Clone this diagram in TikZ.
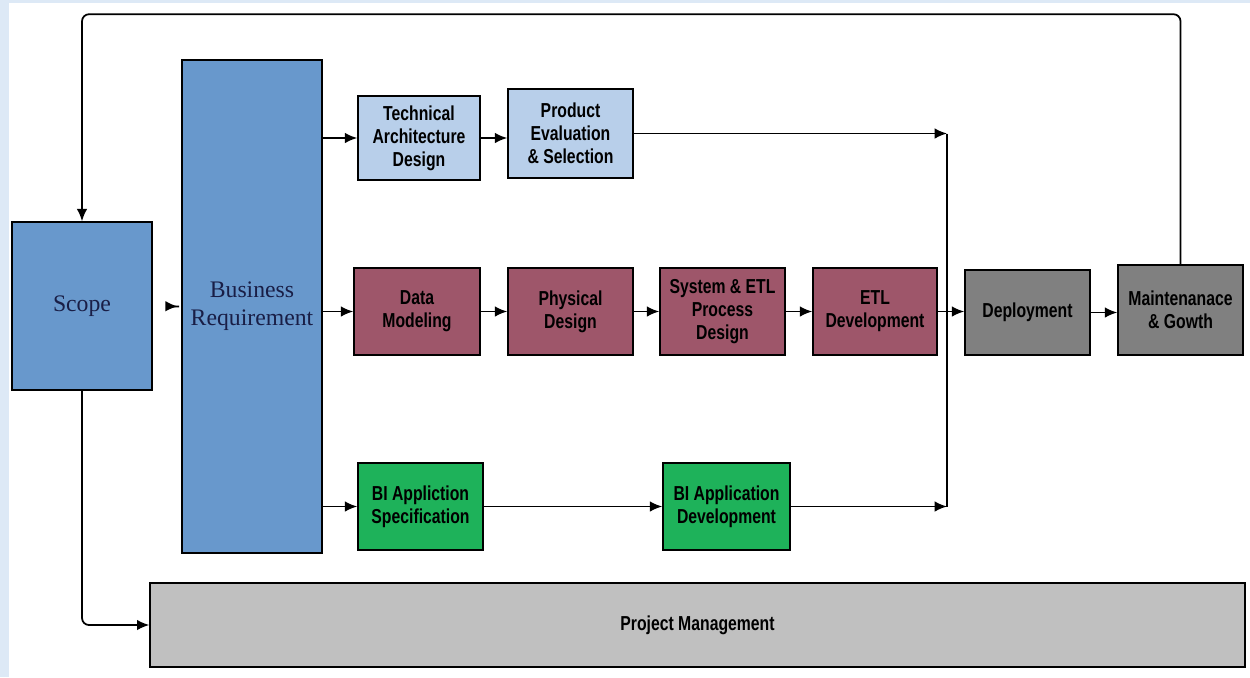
\documentclass[tikz,border=0pt]{standalone}
\usepackage{fontspec}
\setmainfont{Liberation Serif}
\newfontfamily\narrowfont[FakeStretch=0.78]{Liberation Sans}
\usetikzlibrary{arrows.meta}
\definecolor{pageblue}{RGB}{221,233,246}
\definecolor{scopeblue}{RGB}{104,152,204}
\definecolor{archblue}{RGB}{184,207,234}
\definecolor{datamauve}{RGB}{158,86,106}
\definecolor{deploygray}{RGB}{128,128,128}
\definecolor{appgreen}{RGB}{30,178,90}
\definecolor{pmgray}{RGB}{192,192,192}
\definecolor{navytext}{RGB}{25,30,70}

\begin{document}
\begin{tikzpicture}[x=0.02cm,y=-0.02cm,
  box/.style={draw=black, line width=0.9pt, align=center, inner sep=1pt,
    minimum height=1.74cm, minimum width=2.5cm,
    font=\narrowfont\bfseries\fontsize{11.5}{13}\selectfont},
  bigbox/.style={box, text=navytext, font=\fontsize{13.5}{16}\selectfont},
  arr/.style={line width=1pt, -{Latex[length=7pt,width=6pt]}},
  link/.style={line width=1pt}]
\useasboundingbox (0,0) rectangle (1250,677);
\fill[pageblue] (0,0) rectangle (1250,677);
\fill[white] (9,3) rectangle (1250,677);

\node[bigbox, fill=scopeblue, minimum width=2.8cm, minimum height=3.36cm] (scope) at (82,306) {Scope};
\node[bigbox, fill=scopeblue, minimum width=2.8cm, minimum height=9.86cm] (busreq) at (252,306.5) {Business\\Requirement};

\node[box, fill=archblue, minimum width=2.44cm, minimum height=1.68cm] (techarch) at (419,138) {Technical\\Architecture\\Design};
\node[box, fill=archblue, minimum height=1.78cm] (prodeval) at (570.5,133.5) {Product\\Evaluation\\\& Selection};

\node[box, fill=datamauve, minimum width=2.52cm] (datamod) at (417,311.5) {Data\\Modeling};
\node[box, fill=datamauve] (physdes) at (570.5,311.5) {Physical\\Design};
\node[box, fill=datamauve] (sysetl) at (722.5,311.5) {System \& ETL\\Process\\Design};
\node[box, fill=datamauve, minimum width=2.48cm] (etldev) at (875,311.5) {ETL\\Development};
\node[box, fill=deploygray, minimum height=1.7cm] (deploy) at (1027.5,312.5) {Deployment};
\node[box, fill=deploygray, minimum height=1.8cm] (maint) at (1180.5,310) {Maintenanace\\\& Gowth};

\node[box, fill=appgreen] (bispec) at (420.5,506.5) {BI Appliction\\Specification};
\node[box, fill=appgreen, minimum width=2.54cm] (bidev) at (726.5,506.5) {BI Application\\Development};

\node[box, fill=pmgray, minimum width=21.9cm, minimum height=1.68cm] (projman) at (697.5,625) {Project Management};

\coordinate (jtop) at (947,133.5);
\coordinate (jbot) at (947,506.5);
\draw[link] (jtop) -- (jbot);

\draw[arr, shorten <=15pt, shorten >=2pt] (scope.east) -- (busreq.west);
\draw[arr] (busreq.east |- techarch.west) -- (techarch.west);
\draw[arr] (techarch.east) -- (techarch.east -| prodeval.west);
\draw[arr] (prodeval.east) -- (jtop);

\draw[arr] (busreq.east |- datamod.west) -- (datamod.west);
\draw[arr] (datamod) -- (physdes);
\draw[arr] (physdes) -- (sysetl);
\draw[arr] (sysetl) -- (etldev);
\draw[arr] (etldev.east) -- (etldev.east -| deploy.west);
\draw[arr] (deploy.east) -- (deploy.east -| maint.west);

\draw[arr] (busreq.east |- bispec.west) -- (bispec.west);
\draw[arr] (bispec) -- (bidev);
\draw[arr] (bidev.east) -- (jbot);

\draw[arr, rounded corners=4pt] (maint.north) -- ++(0,-250) -| (scope.north);
\draw[arr, rounded corners=4pt] (scope.south) |- (projman.west);

\end{tikzpicture}
\end{document}
